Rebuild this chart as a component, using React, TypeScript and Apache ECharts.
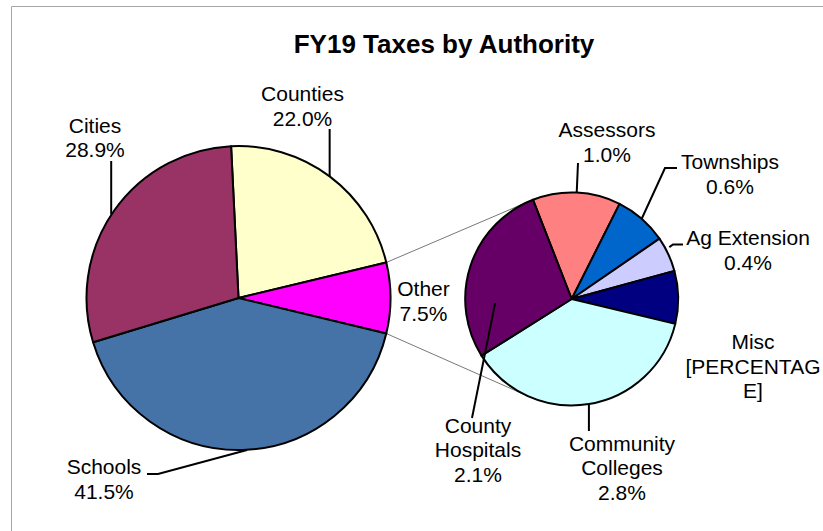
import React, { useEffect, useRef } from "react";
import * as echarts from "echarts";

// ---- data ----
const titleText = "FY19 Taxes by Authority";
const mainNames = ["Counties", "Other", "Schools", "Cities"];
const mainValues = [22.0, 7.5, 41.5, 28.9];
const mainColors = ["#FFFFCC", "#FF00FF", "#4673A7", "#993366"];

const subNames = ["Assessors", "Townships", "Ag Extension", "Misc", "Community Colleges", "County Hospitals"];
const subLabelNames = ["Assessors", "Townships", "Ag Extension", "Misc", "Community\nColleges", "County\nHospitals"];
const subValues = [1.0, 0.6, 0.4, 0.6, 2.8, 2.1];
const subValueTexts: (string | null)[] = [null, null, null, "[PERCENTAG\nE]", null, null];
const subColors = ["#FF8080", "#0066CC", "#CCCCFF", "#000080", "#CCFFFF", "#660066"];

// ---- layout ----
const MAIN = { cx: 238.5, cy: 298, r: 152 };
const SUB = { cx: 571.7, cy: 299, r: 106.5 };
const FONT = '"Liberation Sans", Arial, sans-serif';

type Pt = number[];
const sum = (a: number[]) => a.reduce((s, v) => s + v, 0);

// Other slice centred at 3 o'clock (Excel pie-of-pie)
const mainTotal = sum(mainValues);
const otherIdx = 1;
const mainStartCW = 90 - (mainValues[otherIdx] / 2 / mainTotal) * 360 - (mainValues[0] / mainTotal) * 360;
const mainStartAngle = 90 - mainStartCW;
const subStartAngle = 111.3;

function angleCW(values: number[], startAngle: number, i: number, frac: number) {
  const total = sum(values);
  let before = 0;
  for (let k = 0; k < i; k++) before += values[k];
  return 90 - startAngle + ((before + values[i] * frac) / total) * 360;
}
function polar(g: { cx: number; cy: number; r: number }, deg: number, rf = 1): Pt {
  const a = (deg * Math.PI) / 180;
  return [g.cx + g.r * rf * Math.sin(a), g.cy - g.r * rf * Math.cos(a)];
}

type Lay = { x: number; y: number; line: ((e: Pt) => Pt[]) | null; over?: boolean };
const mainLayout: Lay[] = [
  { x: 302.5, y: 106, line: (e) => [e, [e[0], 129]] },
  { x: 423.5, y: 301, line: null },
  { x: 104, y: 479, line: (e) => [[e[0] + 4, e[1]], [158, 474], [147, 474]] },
  { x: 95, y: 137.5, line: (e) => [[e[0] - 3, e[1] + 4], [e[0] - 3, 161]] },
];
const subLayout: Lay[] = [
  { x: 607, y: 142, line: (e) => [e, [578, 163]] },
  { x: 730, y: 174, line: (e) => [e, [665, 168], [677, 168]] },
  { x: 748, y: 250, line: (e) => [[e[0] + 1, e[1] - 7], [673, 244.5], [683, 244.5]] },
  { x: 753, y: 366, line: null },
  { x: 622, y: 467.5, line: (e) => [e, [e[0], 431]] },
  { x: 478, y: 449.5, line: () => [polar(SUB, 267, 0.72), [472, 418]], over: true },
];

function tangentPoint(p: Pt, g: { cx: number; cy: number; r: number }, upper: boolean): Pt {
  const dx = p[0] - g.cx;
  const dy = p[1] - g.cy;
  const d = Math.sqrt(dx * dx + dy * dy);
  const phi = Math.atan2(dy, dx);
  const off = Math.acos(g.r / d);
  const a1 = phi + off;
  const a2 = phi - off;
  const p1 = [g.cx + g.r * Math.cos(a1), g.cy + g.r * Math.sin(a1)];
  const p2 = [g.cx + g.r * Math.cos(a2), g.cy + g.r * Math.sin(a2)];
  if (upper) return p1[1] < p2[1] ? p1 : p2;
  return p1[1] > p2[1] ? p1 : p2;
}

export default function App() {
  const ref = useRef<HTMLDivElement>(null);
  useEffect(() => {
    if (!ref.current) return;
    const chart = echarts.init(ref.current, undefined, { renderer: "svg" });

    const otherTop = polar(MAIN, angleCW(mainValues, mainStartAngle, otherIdx, 0));
    const otherBot = polar(MAIN, angleCW(mainValues, mainStartAngle, otherIdx, 1));
    const tTop = tangentPoint(otherTop, SUB, true);
    const tBot = tangentPoint(otherBot, SUB, false);

    const labelStyle = {
      show: true,
      position: "outside" as const,
      fontFamily: FONT,
      fontSize: 21,
      lineHeight: 24.5,
      color: "#000",
    };
    const lineStyle = { color: "#000", width: 2 };

    // leader lines that must be drawn over the slices
    const overLines = subLayout
      .map((L, i) => ({ L, i }))
      .filter(({ L }) => L.over && L.line)
      .map(({ L, i }) => ({
        type: "polyline",
        z: 10,
        shape: { points: L.line!(polar(SUB, angleCW(subValues, subStartAngle, i, 0.5))) },
        style: { stroke: "#000", lineWidth: 2, fill: "none" },
        silent: true,
      }));

    const option: any = {
      animation: false,
      backgroundColor: "#fff",
      graphic: [
        {
          type: "rect",
          z: 0,
          shape: { x: 11.5, y: 6.5, width: 900, height: 700 },
          style: { fill: "none", stroke: "#A6A6A6", lineWidth: 1 },
          silent: true,
        },
        {
          type: "text",
          x: 444,
          y: 44,
          style: {
            text: titleText,
            fontFamily: FONT,
            fontSize: 26,
            fontWeight: "bold",
            fill: "#000",
            align: "center",
            verticalAlign: "middle",
          },
          silent: true,
        },
        {
          type: "line",
          z: 1,
          shape: { x1: otherTop[0], y1: otherTop[1], x2: tTop[0], y2: tTop[1] },
          style: { stroke: "#555", lineWidth: 0.8 },
          silent: true,
        },
        {
          type: "line",
          z: 1,
          shape: { x1: otherBot[0], y1: otherBot[1], x2: tBot[0], y2: tBot[1] },
          style: { stroke: "#555", lineWidth: 0.8 },
          silent: true,
        },
        ...overLines,
      ],
      series: [
        {
          type: "pie",
          center: [MAIN.cx, MAIN.cy],
          radius: MAIN.r,
          startAngle: mainStartAngle,
          clockwise: true,
          avoidLabelOverlap: false,
          silent: true,
          itemStyle: { borderColor: "#000", borderWidth: 2 },
          label: {
            ...labelStyle,
            formatter: (p: any) => `${p.name}\n${Number(p.value).toFixed(1)}%`,
          },
          labelLine: { show: true, lineStyle },
          labelLayout: (params: any) => {
            const i = params.dataIndex;
            const L = mainLayout[i];
            const e = polar(MAIN, angleCW(mainValues, mainStartAngle, i, 0.5));
            const res: any = { x: L.x, y: L.y, align: "center", verticalAlign: "middle" };
            if (L.line && !L.over) res.labelLinePoints = L.line(e);
            return res;
          },
          data: mainNames.map((n, i) => ({
            name: n,
            value: mainValues[i],
            itemStyle: { color: mainColors[i] },
            labelLine: { show: mainLayout[i].line != null && !mainLayout[i].over, lineStyle },
          })),
        },
        {
          type: "pie",
          center: [SUB.cx, SUB.cy],
          radius: SUB.r,
          startAngle: subStartAngle,
          clockwise: true,
          avoidLabelOverlap: false,
          silent: true,
          itemStyle: { borderColor: "#000", borderWidth: 2 },
          label: {
            ...labelStyle,
            formatter: (p: any) => {
              const i = p.dataIndex;
              const v = subValueTexts[i] ?? `${Number(p.value).toFixed(1)}%`;
              return `${subLabelNames[i]}\n${v}`;
            },
          },
          labelLine: { show: true, lineStyle },
          labelLayout: (params: any) => {
            const i = params.dataIndex;
            const L = subLayout[i];
            const e = polar(SUB, angleCW(subValues, subStartAngle, i, 0.5));
            const res: any = { x: L.x, y: L.y, align: "center", verticalAlign: "middle" };
            if (L.line && !L.over) res.labelLinePoints = L.line(e);
            return res;
          },
          data: subNames.map((n, i) => ({
            name: n,
            value: subValues[i],
            itemStyle: { color: subColors[i] },
            labelLine: { show: subLayout[i].line != null && !subLayout[i].over, lineStyle },
          })),
        },
      ],
    };
    chart.setOption(option);
    return () => chart.dispose();
  }, []);
  return (
    <div
      ref={ref}
      style={{ position: "fixed", left: 0, top: 0, width: 823, height: 531, background: "#fff" }}
    />
  );
}
